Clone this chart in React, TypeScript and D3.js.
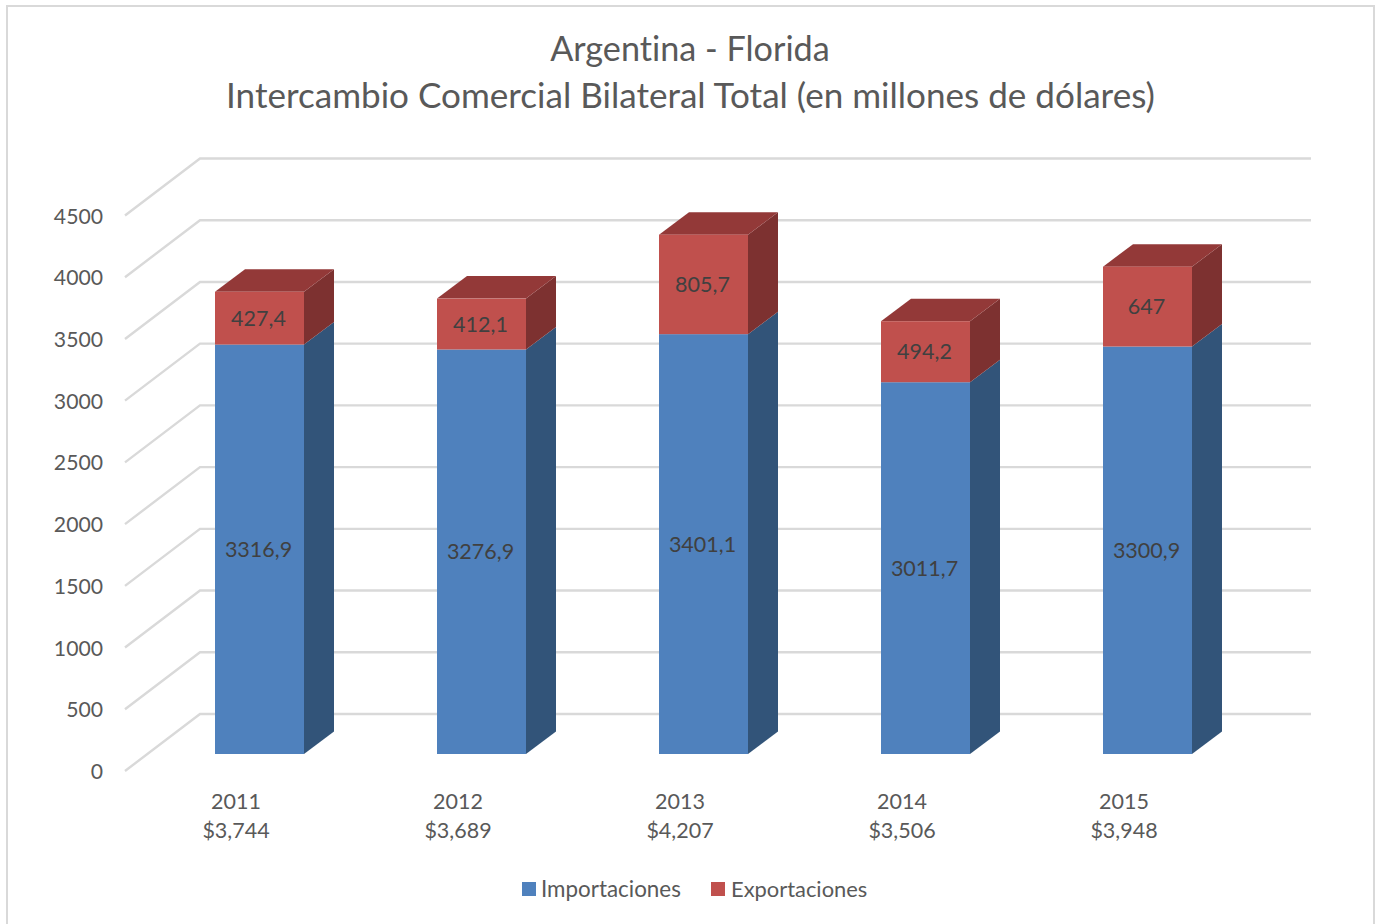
import React from "react";
import * as d3 from "d3";

const years = ["2011", "2012", "2013", "2014", "2015"];
const totals = ["$3,744", "$3,689", "$4,207", "$3,506", "$3,948"];
const importaciones = [3316.9, 3276.9, 3401.1, 3011.7, 3300.9];
const exportaciones = [427.4, 412.1, 805.7, 494.2, 647];
const importLabels = ["3316,9", "3276,9", "3401,1", "3011,7", "3300,9"];
const exportLabels = ["427,4", "412,1", "805,7", "494,2", "647"];
const ticks = d3.range(0, 5000, 500);
const FONT = "Lato, 'Open Sans', sans-serif";
const TEXT = "#595959";
const GRID = "#d9d9d9";
const DX = 30;
const DY = 22.5;
const BW = 89;

const y = d3.scaleLinear().domain([0, 4500]).range([754, 198.5]);
const x = d3.scalePoint<string>().domain(years).range([215, 1103]);

function Segment({ x0, v0, v1, front, side, top }: { x0: number; v0: number; v1: number; front: string; side: string; top?: string }) {
  const yb = y(v0), yt = y(v1), x1 = x0 + BW;
  const poly = (p: number[][]) => p.map((q) => q.join(",")).join(" ");
  return (
    <g>
      <polygon points={poly([[x1, yb], [x1 + DX, yb - DY], [x1 + DX, yt - DY], [x1, yt]])} fill={side} />
      {top && <polygon points={poly([[x0, yt], [x0 + DX, yt - DY], [x1 + DX, yt - DY], [x1, yt]])} fill={top} />}
      <rect x={x0} y={yt} width={BW} height={yb - yt} fill={front} />
    </g>
  );
}

export default function App() {
  return (
    <svg width={1380} height={924} style={{ position: "fixed", left: 0, top: 0, background: "#fff", fontVariantLigatures: "none" }} fontFamily={FONT}>
      <rect x={7} y={6} width={1367} height={930} fill="#fff" stroke={GRID} strokeWidth={2} />
      <g textAnchor="middle" fill={TEXT}>
        <text x={690} y={61} fontSize={34.2}>Argentina - Florida</text>
        <text x={690.5} y={108} fontSize={35.1}>Intercambio Comercial Bilateral Total (en millones de dólares)</text>
      </g>
      {ticks.map((t) => {
        const yf = y(t) + 17;
        return (
          <g key={t}>
            <polyline points={`125,${yf} 200,${yf - 57} 1311,${yf - 57}`} fill="none" stroke={GRID} strokeWidth={2.4} />
            <text x={103} y={yf + 8} textAnchor="end" fill={TEXT} fontSize={21.2}>{t}</text>
          </g>
        );
      })}
      {years.map((yr, i) => {
        const x0 = x(yr)!;
        const im = importaciones[i], ex = exportaciones[i];
        return (
          <g key={yr}>
            <Segment x0={x0} v0={0} v1={im} front="#4f81bd" side="#325479" />
            <Segment x0={x0} v0={im} v1={im + ex} front="#c0504d" side="#7d3130" top="#933938" />
            <g textAnchor="middle" fill="#404040" fontSize={21.5}>
              <text x={x0 + BW / 2 - 1} y={y(im / 2) + 7.5}>{importLabels[i]}</text>
              <text x={x0 + BW / 2 - 1} y={y(im + ex / 2) + 7.5}>{exportLabels[i]}</text>
            </g>
            <g textAnchor="middle" fill={TEXT} fontSize={21.5}>
              <text x={x0 + 21} y={809}>{yr}</text>
              <text x={x0 + 21} y={838}>{totals[i]}</text>
            </g>
          </g>
        );
      })}
      <g fill={TEXT}>
        <rect x={522} y={882} width={14} height={14} fill="#4f81bd" />
        <text x={541} y={896.5} fontSize={22.4}>Importaciones</text>
        <rect x={711} y={882} width={14} height={14} fill="#c0504d" />
        <text x={731} y={896.5} fontSize={21.9}>Exportaciones</text>
      </g>
    </svg>
  );
}
